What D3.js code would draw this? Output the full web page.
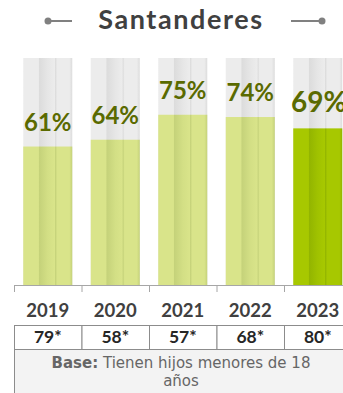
<!DOCTYPE html>
<html><head><meta charset="utf-8">
<script src="https://cdn.jsdelivr.net/npm/d3@7"></script>
<style>html,body{margin:0;padding:0;background:#fff;overflow:hidden}</style>
</head><body>
<svg id="c" width="343" height="393"></svg>
<script>
const title = "Santanderes";
const years = ["2019","2020","2021","2022","2023"];
const values = [61, 64, 75, 74, 69];
const bases = ["79*","58*","57*","68*","80*"];
const highlight = "2023";
const baseLabel = "Base:";
const baseText1 = " Tienen hijos menores de 18";
const baseText2 = "años";

const svg = d3.select("#c");
const F = "Lato, 'DejaVu Sans', sans-serif";
const F2 = "'DejaVu Sans', sans-serif";
const x = d3.scaleBand().domain(years).range([14, 351.5]);
const xb = d3.scaleBand().domain(years).range([14, 351.5]).paddingInner(0.274).paddingOuter(0.137);
const y = d3.scaleLinear().domain([0, 100]).range([285, 58]);

const defs = svg.append("defs");
function grad(id, base, dark, mid) {
  const g = defs.append("linearGradient").attr("id", id).attr("x1", 0).attr("x2", 1).attr("y1", 0).attr("y2", 0);
  [[0, base],[0.31, base],[0.33, dark],[0.5, mid],[0.64, base],[0.66, dark],[0.69, base],[0.94, base],[1, dark]]
    .forEach(([o, c]) => g.append("stop").attr("offset", o).attr("stop-color", c));
}
grad("gGray", "#ececec", "#dcdcdc", "#e6e6e6");
grad("gLight", "#d9e48a", "#c5d27a", "#d3df85");
grad("gDark", "#a7c800", "#93b500", "#a0c200");

// title
svg.append("text").attr("x", 181).attr("y", 29).attr("text-anchor", "middle")
  .attr("font-family", F).attr("font-weight", 700).attr("font-size", 27).attr("letter-spacing", 1.6)
  .attr("fill", "#404040").text(title);
svg.append("line").attr("x1", 47).attr("x2", 72).attr("y1", 21).attr("y2", 21).attr("stroke", "#808080").attr("stroke-width", 2);
svg.append("circle").attr("cx", 48).attr("cy", 21).attr("r", 3.5).attr("fill", "#808080");
svg.append("line").attr("x1", 291).attr("x2", 322).attr("y1", 21).attr("y2", 21).attr("stroke", "#808080").attr("stroke-width", 2);
svg.append("circle").attr("cx", 322).attr("cy", 21).attr("r", 3.5).attr("fill", "#808080");

// background bars
svg.selectAll(".bg").data(years).join("rect").attr("class", "bg")
  .attr("x", d => xb(d)).attr("width", xb.bandwidth())
  .attr("y", y(100)).attr("height", y(0) - y(100)).attr("fill", "url(#gGray)");

// value bars
svg.selectAll(".bar").data(years).join("rect").attr("class", "bar")
  .attr("x", d => xb(d)).attr("width", xb.bandwidth())
  .attr("y", (d, i) => y(values[i])).attr("height", (d, i) => y(0) - y(values[i]))
  .attr("fill", d => d === highlight ? "url(#gDark)" : "url(#gLight)");

// labels
svg.selectAll(".lbl").data(years).join("text").attr("class", "lbl")
  .attr("x", d => xb(d) + xb.bandwidth() / 2 + (d === highlight ? 1 : 0))
  .attr("y", (d, i) => y(values[i]) - 16)
  .attr("text-anchor", "middle").attr("font-family", F).attr("font-weight", 700)
  .attr("font-size", d => d === highlight ? 28 : 24).attr("fill", "#5a6a00")
  .text((d, i) => values[i] + "%");

// axis
const ax = svg.append("g").attr("transform", "translate(0,285)")
  .call(d3.axisBottom(x).tickSize(0).tickFormat(""));
ax.select(".domain").attr("stroke", "#a6a6a6").attr("d", "M14,0.5H343");
svg.selectAll(".tk").data(years).join("line").attr("class", "tk")
  .attr("x1", d => x(d) + 0.5).attr("x2", d => x(d) + 0.5).attr("y1", 285).attr("y2", 292)
  .attr("stroke", "#a6a6a6");

// year labels
svg.selectAll(".yr").data(years).join("text").attr("class", "yr")
  .attr("x", d => x(d) + x.bandwidth() / 2).attr("y", 317).attr("text-anchor", "middle")
  .attr("font-family", F).attr("font-weight", 700).attr("font-size", 18.5).attr("fill", "#404040").text(d => d);

// base row
svg.append("rect").attr("x", 14.5).attr("y", 349.5).attr("width", 340).attr("height", 50)
  .attr("fill", "#f3f3f3").attr("stroke", "#8c8c8c");
svg.selectAll(".cell").data(years).join("rect").attr("class", "cell")
  .attr("x", d => x(d) + 0.5).attr("y", 325.5).attr("width", x.bandwidth()).attr("height", 24)
  .attr("fill", "#fff").attr("stroke", "#8c8c8c");
svg.selectAll(".bv").data(years).join("text").attr("class", "bv")
  .attr("x", d => x(d) + x.bandwidth() / 2).attr("y", 343).attr("text-anchor", "middle")
  .attr("font-family", F).attr("font-weight", 700).attr("font-size", 17.5).attr("fill", "#262626")
  .text((d, i) => bases[i]);

const bt = svg.append("text").attr("x", 181).attr("y", 368).attr("text-anchor", "middle")
  .attr("font-family", F2).attr("font-size", 15).attr("fill", "#666");
bt.append("tspan").attr("font-weight", 700).text(baseLabel);
bt.append("tspan").text(baseText1);
svg.append("text").attr("x", 181).attr("y", 386).attr("text-anchor", "middle")
  .attr("font-family", F2).attr("font-size", 15).attr("fill", "#666").text(baseText2);
</script>
</body></html>
